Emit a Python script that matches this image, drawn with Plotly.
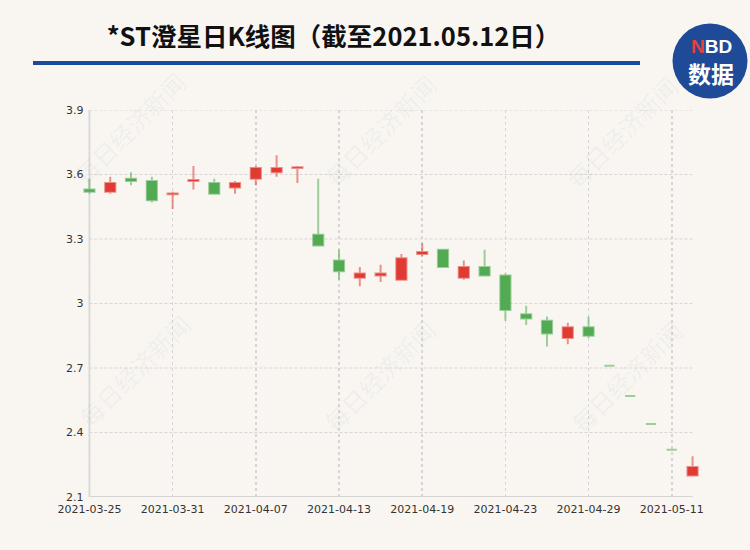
import plotly.graph_objects as go

# ---- data ----
dates = [
    "2021-03-25", "2021-03-26", "2021-03-29", "2021-03-30", "2021-03-31",
    "2021-04-01", "2021-04-02", "2021-04-06", "2021-04-07", "2021-04-08",
    "2021-04-09", "2021-04-12", "2021-04-13", "2021-04-14", "2021-04-15",
    "2021-04-16", "2021-04-19", "2021-04-20", "2021-04-21", "2021-04-22",
    "2021-04-23", "2021-04-26", "2021-04-27", "2021-04-28", "2021-04-29",
    "2021-05-06", "2021-05-07", "2021-05-10", "2021-05-11", "2021-05-12",
]
open_ = [3.53, 3.52, 3.58, 3.57, 3.508, 3.57, 3.56, 3.54, 3.58, 3.61,
         3.63, 3.32, 3.20, 3.12, 3.13, 3.11, 3.23, 3.25, 3.12, 3.17,
         3.13, 2.95, 2.92, 2.84, 2.89, 2.71, 2.57, 2.44, 2.32, 2.20]
close = [3.52, 3.56, 3.57, 3.48, 3.512, 3.574, 3.51, 3.56, 3.63, 3.63,
         3.634, 3.27, 3.15, 3.14, 3.14, 3.21, 3.24, 3.17, 3.17, 3.13,
         2.97, 2.93, 2.86, 2.89, 2.85, 2.71, 2.57, 2.44, 2.32, 2.24]
high = [3.58, 3.59, 3.61, 3.59, 3.52, 3.64, 3.58, 3.57, 3.64, 3.69,
        3.64, 3.58, 3.25, 3.17, 3.18, 3.23, 3.28, 3.25, 3.20, 3.25,
        3.14, 2.99, 2.94, 2.91, 2.94, 2.71, 2.57, 2.44, 2.32, 2.29]
low = [3.51, 3.51, 3.55, 3.47, 3.44, 3.53, 3.51, 3.51, 3.55, 3.59,
       3.56, 3.27, 3.11, 3.08, 3.10, 3.11, 3.22, 3.17, 3.11, 3.13,
       2.92, 2.90, 2.80, 2.81, 2.84, 2.71, 2.57, 2.44, 2.32, 2.20]
x_ticks = dates[::4]
y_ticks = [2.1, 2.4, 2.7, 3.0, 3.3, 3.6, 3.9]
y_ticktext = ["2.1", "2.4", "2.7", "3", "3.3", "3.6", "3.9"]
title_text = "*ST澄星日K线图（截至2021.05.12日）"
watermark = "每日经济新闻"

# ---- layout geometry ----
W, H = 750, 550
ML, MR, MT, MB = 78, 46, 110, 53
PW, PH = W - ML - MR, H - MT - MB
PAD = 0.55
xr = [-PAD, len(dates) - 1 + PAD]


def px(X, Y):
    return (X - ML) / PW, (H - MB - Y) / PH


BG = "#f9f6f2"
GRID = "#d6d6d6"
FONT = "DejaVu Sans"

fig = go.Figure()
fig.add_trace(go.Candlestick(
    x=dates, open=open_, high=high, low=low, close=close,
    increasing=dict(fillcolor="#e03b33", line=dict(color="rgba(224,59,51,0.55)", width=2)),
    decreasing=dict(fillcolor="#52ab52", line=dict(color="rgba(82,171,82,0.55)", width=2)),
    whiskerwidth=0, hoverinfo="skip", showlegend=False,
))

shapes = []
for v in y_ticks[1:]:
    shapes.append(dict(type="line", xref="x", yref="y", x0=0, x1=len(dates) - 1,
                       y0=v, y1=v, line=dict(color=GRID, width=1, dash="3px,2px"),
                       layer="below"))
shapes.append(dict(type="line", xref="x", yref="y", x0=0, x1=len(dates) - 1,
                   y0=y_ticks[0], y1=y_ticks[0], line=dict(color="#c8c8c8", width=1.5),
                   layer="below"))
shapes.append(dict(type="line", xref="x", yref="y", x0=0, x1=0,
                   y0=y_ticks[0], y1=y_ticks[-1], line=dict(color="#dcdcdc", width=2),
                   layer="below"))
x0, y0 = px(33, 63)
x1, _ = px(640, 63)
shapes.append(dict(type="line", xref="paper", yref="paper", x0=x0, x1=x1, y0=y0, y1=y0,
                   line=dict(color="#1b4c9c", width=4)))
cx0, cy0 = px(672.5, 98.5)
cx1, cy1 = px(747.5, 23.5)
shapes.append(dict(type="circle", xref="paper", yref="paper", x0=cx0, x1=cx1, y0=cy0, y1=cy1,
                   fillcolor="#1f4a97", line=dict(width=0)))

annotations = []
for (X, Y) in [(130, 128), (380, 130), (622, 132), (134, 370), (379, 375), (626, 376)]:
    ax, ay = px(X, Y)
    annotations.append(dict(xref="paper", yref="paper", x=ax, y=ay, text=watermark,
                            xanchor="center", yanchor="middle",
                            showarrow=False, textangle=-45,
                            font=dict(family="Noto Sans CJK SC", size=24,
                                      color="rgba(120,120,120,0.08)")))
lx, ly = px(711, 47)
annotations.append(dict(xref="paper", yref="paper", x=lx, y=ly,
                        xanchor="center", yanchor="middle",
                        text="<b><span style='color:#e8403a'>N</span>BD</b>",
                        showarrow=False,
                        font=dict(family="Liberation Sans", size=19, color="white")))
lx, ly = px(711, 73)
annotations.append(dict(xref="paper", yref="paper", x=lx, y=ly, text="<b>数据</b>",
                        xanchor="center", yanchor="middle",
                        showarrow=False,
                        font=dict(family="Noto Sans CJK SC", size=23, color="white")))

fig.update_layout(
    width=W, height=H,
    margin=dict(l=ML, r=MR, t=MT, b=MB),
    paper_bgcolor=BG, plot_bgcolor=BG,
    title=dict(text="<b>" + title_text + "</b>", xref="container", yref="container",
               x=333.5 / W, y=1 - 37 / H, xanchor="center", yanchor="middle",
               font=dict(family="Noto Sans CJK SC", size=25.5, color="#111111")),
    xaxis=dict(type="category", categoryorder="array", categoryarray=dates,
               range=xr, rangeslider=dict(visible=False),
               tickmode="array", tickvals=x_ticks, ticktext=x_ticks,
               showgrid=True, gridcolor=GRID, griddash="dot", gridwidth=1.5,
               showline=False, zeroline=False, ticks="",
               tickfont=dict(family=FONT, size=11, color="#333333"),
               ticklabelstandoff=4),
    yaxis=dict(range=[y_ticks[0], y_ticks[-1]], tickmode="array",
               tickvals=y_ticks, ticktext=y_ticktext,
               showgrid=False, showline=False, zeroline=False, ticks="",
               anchor="free", position=PAD / (xr[1] - xr[0]),
               tickfont=dict(family=FONT, size=11, color="#333333"),
               ticklabelstandoff=6),
    shapes=shapes, annotations=annotations,
    hovermode=False,
)

fig.write_html(
    "out.html",
    config={"displayModeBar": False, "staticPlot": True},
    post_script="document.body.style.margin='0';document.body.style.overflow='hidden';",
)
